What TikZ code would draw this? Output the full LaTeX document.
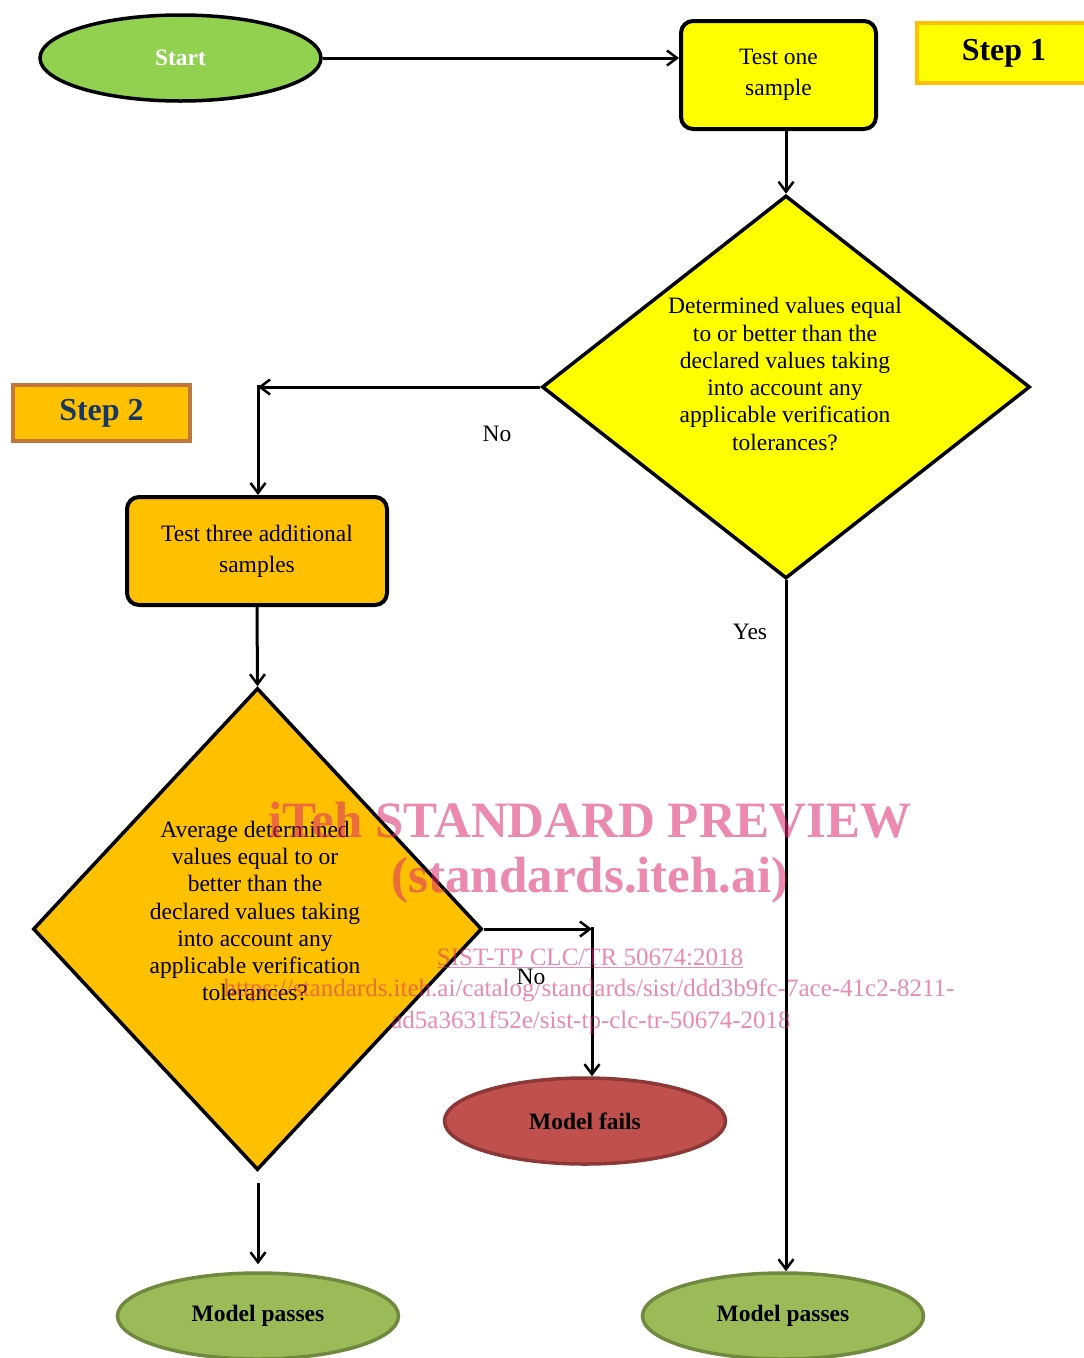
\documentclass[tikz,border=0pt]{standalone}
\usepackage{fontspec}
\setmainfont{Liberation Serif}
\usetikzlibrary{shapes.geometric,arrows.meta}
\definecolor{startgreen}{RGB}{146,208,80}
\definecolor{yel}{RGB}{255,255,0}
\definecolor{orng}{RGB}{255,192,0}
\definecolor{stepbrd}{RGB}{192,118,60}
\definecolor{navy}{RGB}{23,55,94}
\definecolor{failred}{RGB}{192,80,77}
\definecolor{failbrd}{RGB}{140,56,54}
\definecolor{passgreen}{RGB}{155,187,89}
\definecolor{passbrd}{RGB}{113,137,63}
\definecolor{wm}{RGB}{220,40,110}
\begin{document}
\begin{tikzpicture}[x=1pt,y=-1pt,
  txt/.style={font=\fontsize{23.5}{27.3}\selectfont, align=center},
  boldtxt/.style={font=\bfseries\fontsize{23.5}{27}\selectfont},
  flowbox/.style={draw=black, line width=4pt, rounded corners=12pt, inner sep=0pt, align=center,
    font=\fontsize{23.5}{31}\selectfont},
  oval/.style={ellipse, line width=3.5pt, inner sep=0pt, minimum width=281pt, minimum height=86pt},
  decision/.style={diamond, draw=black, line width=3.5pt, inner sep=0pt},
  stepbox/.style={line width=4pt, inner sep=0pt, font=\bfseries\fontsize{32}{32}\selectfont},
  conn/.style={draw=black, line width=3pt, -{Straight Barb[length=10pt,width=15pt,line width=2.5pt]}},
  wmtext/.style={text=wm, text opacity=0.55, inner sep=0pt}
]
\useasboundingbox (0,0) rectangle (1084,1358);

% nodes
\node[oval, draw=black, fill=startgreen, text=white, boldtxt] (start) at (180.5,58) {Start};
\node[flowbox, fill=yel, minimum width=195pt, minimum height=108pt] (test) at (778.5,75) {Test one\\sample};
\node[stepbox, draw=orng, fill=yel, minimum width=174pt, minimum height=60pt] (s1) at (1004,53) {Step 1};
\node[decision, fill=yel, minimum width=488pt, minimum height=383pt] (d1) at (786,387) {};
\node[txt] (d1t) at (785,374) {Determined values equal\\to or better than the\\declared values taking\\into account any\\applicable verification\\tolerances?};
\node[stepbox, draw=stepbrd, fill=orng, text=navy, minimum width=177pt, minimum height=56pt] (s2) at (101.5,413) {Step 2};
\node[flowbox, fill=orng, minimum width=260pt, minimum height=108pt] (t3) at (257,551) {Test three additional\\samples};
\node[decision, fill=orng, minimum width=449pt, minimum height=482pt] (d2) at (257.5,929) {};
\node[txt] (d2t) at (255,911) {Average determined\\values equal to or\\better than the\\declared values taking\\into account any\\applicable verification\\tolerances?};
\node[oval, draw=failbrd, fill=failred, boldtxt] (fails) at (585,1121) {Model fails};
\node[oval, draw=passbrd, fill=passgreen, boldtxt] (pass1) at (258,1316) {Model passes};
\node[oval, draw=passbrd, fill=passgreen, boldtxt] (pass2) at (783,1316) {Model passes};

% labels
\node[txt] (no1) at (497,434) {No};
\node[txt] (no2) at (531,977) {No};
\node[txt] (yes) at (750,632) {Yes};

% connectors
\coordinate (c1) at (258,387);
\coordinate (c2) at (592,929);
\coordinate (c3) at (258,1183);
\draw[conn] (start.east) -- (start.east -| test.west);
\draw[conn] (d1.north |- test.south) -- (d1.north);
\draw[conn] (d1.west) -- (c1);
\draw[conn] ([yshift=2pt]c1) -- (c1 |- t3.north);
\draw[conn] (t3.south) -- (d2.north);
\draw[conn] (d2.east) -- (c2);
\draw[conn] ([yshift=2pt]c2) -- (c2 |- fails.north);
\draw[conn, shorten >=7pt] (c3) -- (pass1.north);
\draw[conn] (d1.south) -- (d1.south |- pass2.north);

% watermark
\node[wmtext, font=\bfseries\fontsize{51}{51}\selectfont] (wm1) at (590,820) {iTeh STANDARD PREVIEW};
\node[wmtext, font=\bfseries\fontsize{51}{51}\selectfont] (wm2) at (590,880) {(standards.iteh.ai)};
\node[wmtext, font=\fontsize{25}{25}\selectfont] (wm3) at (590,958) {\underline{SIST-TP CLC/TR 50674:2018}};
\node[wmtext, font=\fontsize{25}{25}\selectfont] (wm4) at (589,990) {https://standards.iteh.ai/catalog/standards/sist/ddd3b9fc-7ace-41c2-8211-};
\node[wmtext, font=\fontsize{25}{25}\selectfont] (wm5) at (591,1022) {ad5a3631f52e/sist-tp-clc-tr-50674-2018};
\end{tikzpicture}
\end{document}
